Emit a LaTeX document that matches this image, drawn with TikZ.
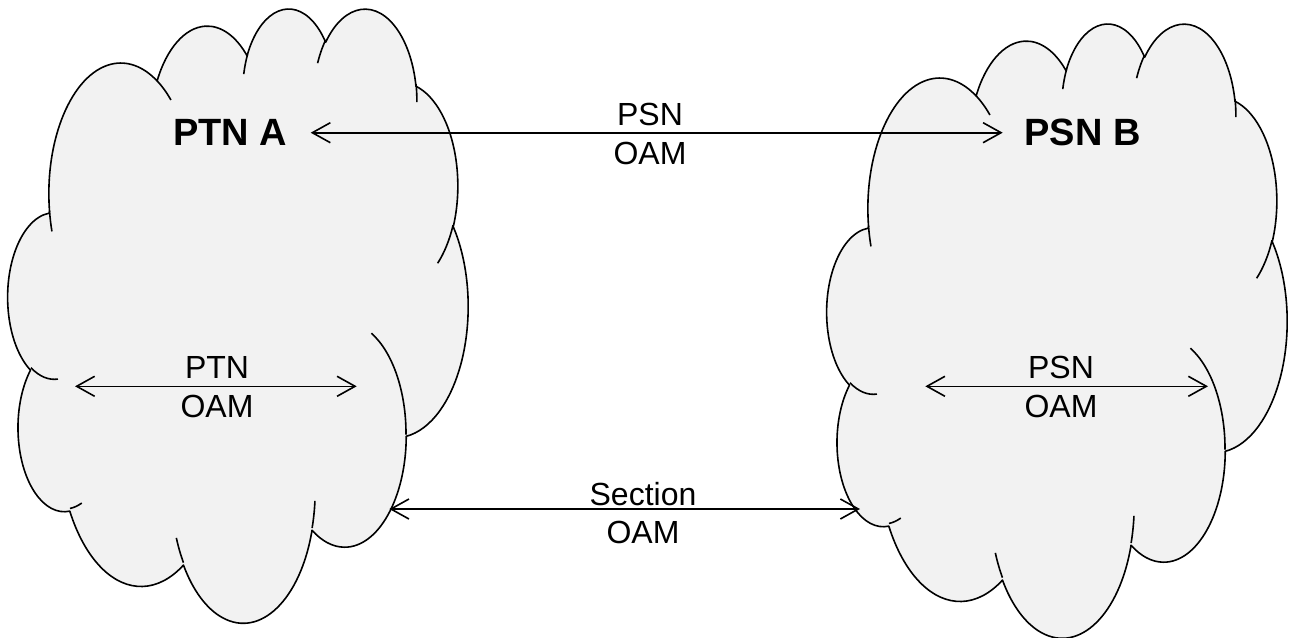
\documentclass[tikz,border=0pt]{standalone}
\usepackage{fontspec}
\setmainfont{Liberation Sans}
\usetikzlibrary{arrows.meta}

% arcTo of DrawingML (visual angles) -> TikZ elliptical arc (parametric angles)
\newcommand\ooarcdef[5]{%
  \pgfmathsetmacro\ooS{atan2((#2)*sin(#4),(#3)*cos(#4))}%
  \pgfmathsetmacro\ooE{atan2((#2)*sin((#4)+(#5)),(#3)*cos((#4)+(#5)))}%
  \pgfmathsetmacro\ooD{\ooE-\ooS-(#5)}%
  \pgfmathsetmacro\ooE{\ooE-360*round(\ooD/360)}%
  \edef\ootmp{\noexpand\tikzset{#1/.style={x radius=#2pt,y radius=#3pt,start angle=\ooS,end angle=\ooE}}}%
  \ootmp}

% outline
\ooarcdef{cA}{675.3}{919.0}{-190.48748}{123.78053}
\ooarcdef{cB}{533.3}{726.7}{-144.10238}{89.94523}
\ooarcdef{cC}{436.5}{594.5}{-145.80792}{99.72302}
\ooarcdef{cD}{485.7}{659.5}{-130.98607}{117.24173}
\ooarcdef{cE}{533.3}{727.3}{-78.70888}{109.02692}
\ooarcdef{cF}{677.5}{922.0}{-46.26725}{130.269}
\ooarcdef{cG}{578.5}{786.7}{0.62502}{114.03333}
\ooarcdef{cH}{675.2}{921.5}{22.4516}{115.17255}
\ooarcdef{cI}{772.0}{1054.3}{66.24263}{75.71102}
\ooarcdef{cJ}{436.0}{591.8}{-274.94208}{146.73557}
\ooarcdef{cK}{434.5}{594.5}{-246.8285}{152.51885}
% inner stubs
\ooarcdef{sA}{434.5}{594.5}{86.742}{26.4295}
\ooarcdef{sB}{436.0}{591.8}{73.61047}{11.44747}
\ooarcdef{sC}{675.2}{921.5}{137.62415}{14.0811}
\ooarcdef{sD}{675.2}{921.5}{6.45327}{15.99835}
\ooarcdef{sE}{578.5}{786.7}{-70.29235}{70.91737}
\ooarcdef{sF}{533.3}{727.3}{30.31803}{27.7515}
\ooarcdef{sG}{485.7}{659.5}{-13.74433}{14.8589}
\ooarcdef{sH}{485.7}{659.5}{-149.18145}{18.19537}
\ooarcdef{sI}{436.5}{594.5}{-163.49427}{17.68635}
\ooarcdef{sJ}{675.3}{919.0}{-66.70695}{12.31935}
\ooarcdef{sK}{675.3}{919.0}{157.65435}{11.85817}

\definecolor{cloudfill}{HTML}{F2F2F2}

\newcommand\cloudshape{%
  \filldraw[cloudst] (390,1437) arc[cA] arc[cB] arc[cC] arc[cD] arc[cE] arc[cF]
    arc[cG] arc[cH] arc[cI] arc[cJ] arc[cK] -- cycle;
  \draw[cloudst, fill=none]
    (469.3,2617.7) arc[sA]
    (692.8,3489.9) arc[sB]
    (1647.8,3909.0) arc[sC]
    (2882.7,3475.1) arc[sD]
    (3412.9,2295.4) arc[sE]
    (4179.8,1535.4) arc[sF]
    (3832.4,542.6) arc[sG]
    (2907.8,395.2) arc[sH]
    (2214.1,472.0) arc[sI]
    (1400.0,519.2) arc[sJ]
    (412.7,1578.9) arc[sK];
}

\begin{document}
\begin{tikzpicture}[x=1pt, y=1pt, yscale=-1,
  cloudst/.style={draw=black, fill=cloudfill, line width=1.6pt, line join=round},
  arr/.style={line width=1.6pt, <->, >={Straight Barb[length=18pt,width=20pt]}},
  big/.style={font=\fontsize{38}{44}\selectfont\bfseries, inner sep=0pt},
  lbl/.style={font=\fontsize{32}{38.5}\selectfont, align=center, inner sep=0pt}]
\useasboundingbox (0,0) rectangle (1292,637);

% clouds
\begin{scope}[shift={(8,7)}, xscale=0.106481, yscale=0.142130]
  \cloudshape
\end{scope}
\begin{scope}[shift={(827,22)}, xscale=0.106481, yscale=0.142130]
  \cloudshape
\end{scope}

% titles
\node[big] (ptna) at (230,132.5) {PTN A};
\node[big] (psnb) at (1082.5,132.5) {PSN B};

% arrow end points
\coordinate (topL) at (310.7,132.7);
\coordinate (topR) at (1002.7,132.7);
\coordinate (aL) at (75,386.3);
\coordinate (aR) at (356.7,386.3);
\coordinate (bL) at (925.3,386.3);
\coordinate (bR) at (1208,386.3);
\coordinate (sL) at (389.3,509);
\coordinate (sR) at (860,509);

\draw[arr] (topL) -- (topR);
\draw[arr] (aL) -- (aR);
\draw[arr] (bL) -- (bR);
\draw[arr] (sL) -- (sR);

% labels
\node[lbl] (ltop) at (650,134) {PSN\\OAM};
\node[lbl] (lptn) at (217,387) {PTN\\OAM};
\node[lbl] (lpsn) at (1061,387) {PSN\\OAM};
\node[lbl] (lsec) at (643,513) {Section\\OAM};
\end{tikzpicture}
\end{document}
